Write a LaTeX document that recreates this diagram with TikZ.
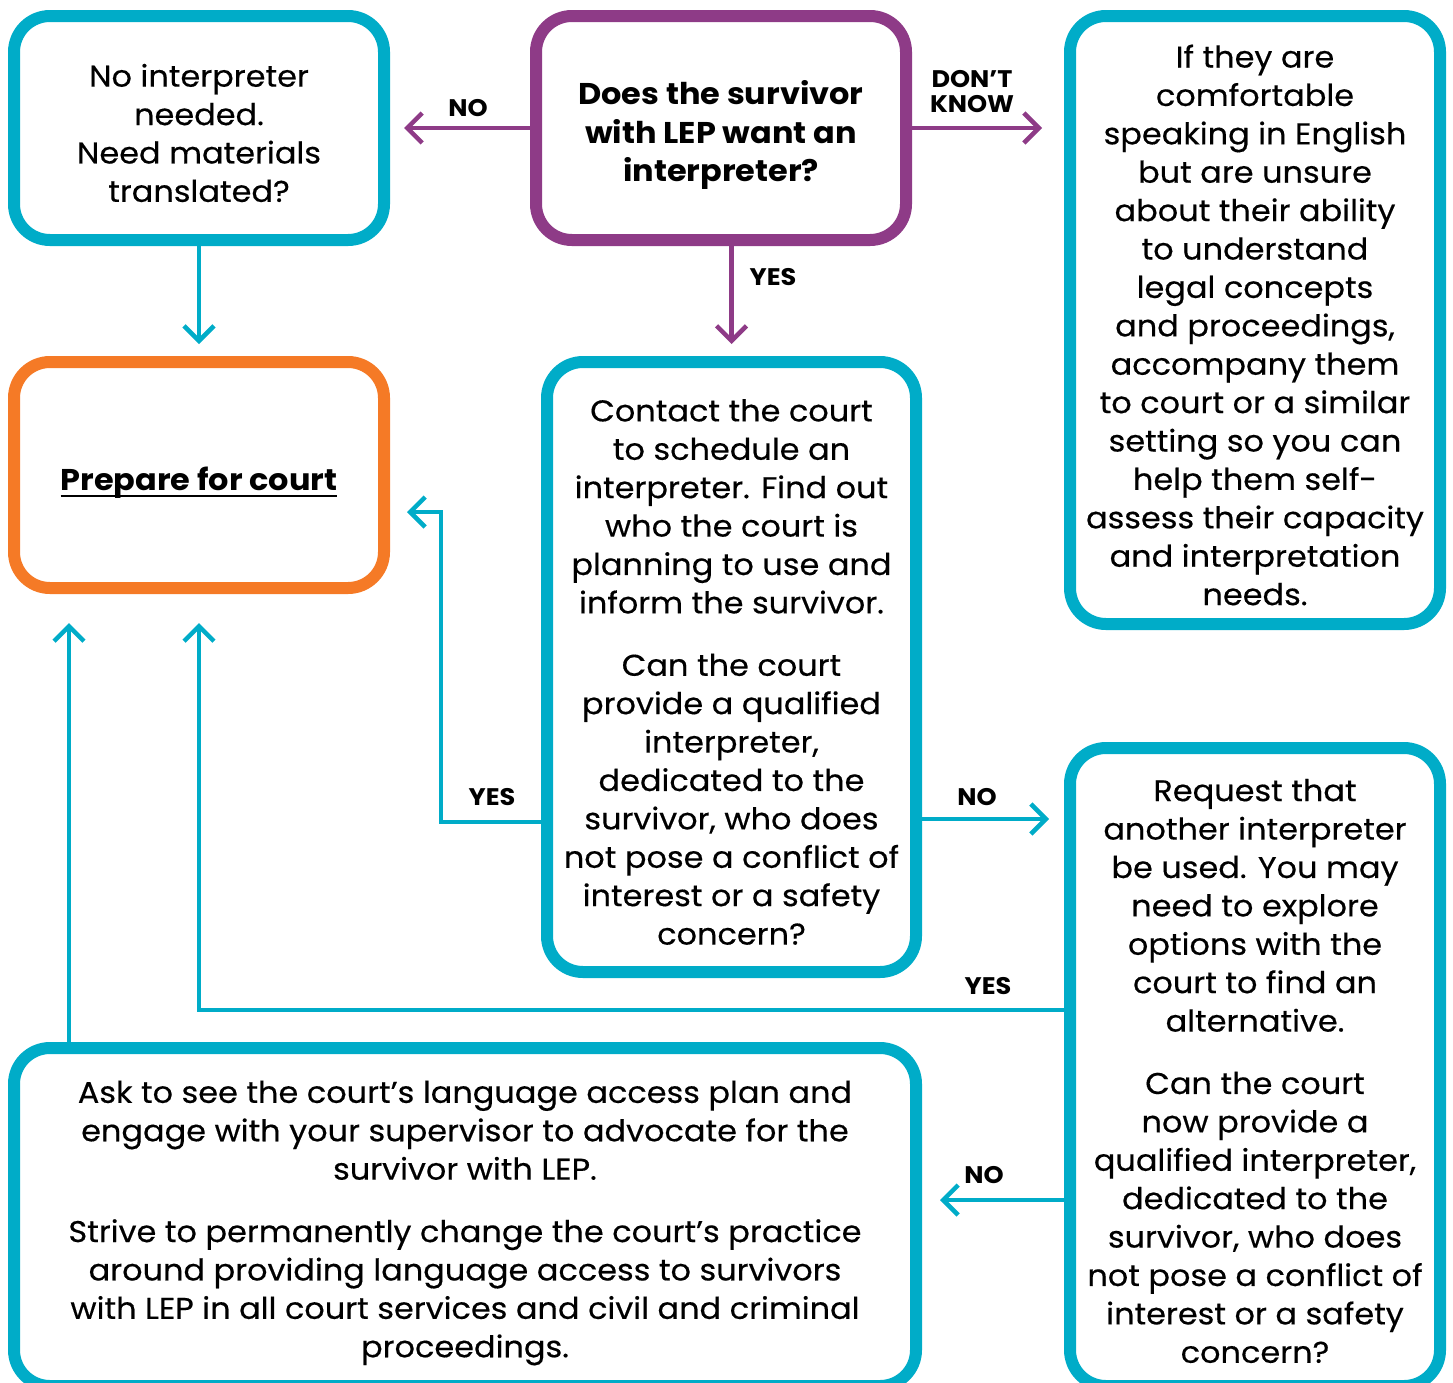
\documentclass[tikz,border=0pt]{standalone}
\usepackage{fontspec}
\setmainfont{Poppins}[FakeStretch=1.065, UprightFeatures={FakeBold=0.4}]
\newcommand\myul[1]{\setbox0\hbox{#1}\rlap{\rule[-6pt]{\wd0}{2.2pt}}\box0}
\usetikzlibrary{arrows.meta}
\definecolor{cpurple}{RGB}{142,59,135}
\definecolor{ccyan}{RGB}{0,172,200}
\definecolor{corange}{RGB}{245,122,38}
\begin{document}
\begin{tikzpicture}[x=1pt,y=-1pt,
  box/.style={draw=ccyan, line width=12pt, rounded corners=36pt, inner sep=0pt},
  txt/.style={align=center, inner sep=0pt, font=\fontsize{30}{38.4}\selectfont},
  conn/.style={draw=ccyan, line width=4.5pt, -{Straight Barb[length=15pt,width=30pt]}},
  pconn/.style={conn, draw=cpurple},
  lbl/.style={font=\fontsize{24}{25}\selectfont\bfseries, inner sep=0pt, align=center}]
\useasboundingbox (0,0) rectangle (1453,1382);
\clip (0,0) rectangle (1453,1382);

% boxes
\node[box, minimum width=370pt, minimum height=224pt] (A) at (199,128) {};
\node[box, draw=cpurple, minimum width=370pt, minimum height=224pt] (B) at (721,128) {};
\node[box, minimum width=370pt, minimum height=608pt] (C) at (1255,320) {};
\node[box, draw=corange, minimum width=370pt, minimum height=226pt] (D) at (199,475) {};
\node[box, minimum width=369pt, minimum height=610pt] (E) at (731.5,667) {};
\node[box, minimum width=370pt, minimum height=638pt] (F) at (1255,1067) {};
\node[box, minimum width=902pt, minimum height=338pt] (G) at (465,1217) {};

% texts
\node[txt] (At) at ([yshift=-5pt]A.center)
  {No interpreter\\needed.\\Need materials\\translated?};
\node[txt, font=\fontsize{30}{38.4}\selectfont\bfseries] (Bt) at ([yshift=-7pt]B.center)
  {Does the survivor\\with LEP want an\\interpreter?};
\node[txt] (Ct) at ([yshift=-5pt]C.center)
  {If they are\\comfortable\\speaking in English\\but are unsure\\about their ability\\to understand\\legal concepts\\and proceedings,\\accompany them\\to court or a similar\\setting so you can\\help them self-\\assess their capacity\\and interpretation\\needs.};
\node[txt, font=\fontsize{30}{38.4}\selectfont\bfseries] (Dt) at ([yshift=-8pt]D.center)
  {\myul{Prepare for court}};
\node[txt] (Et) at ([yshift=-5pt]E.center)
  {Contact the court\\to schedule an\\interpreter. Find out\\who the court is\\planning to use and\\inform the survivor.\\[24pt]Can the court\\provide a qualified\\interpreter,\\dedicated to the\\survivor, who does\\not pose a conflict of\\interest or a safety\\concern?};
\node[txt] (Ft) at ([yshift=-4pt]F.center)
  {Request that\\another interpreter\\be used. You may\\need to explore\\options with the\\court to find an\\alternative.\\[24pt]Can the court\\now provide a\\qualified interpreter,\\dedicated to the\\survivor, who does\\not pose a conflict of\\interest or a safety\\concern?};
\node[txt] (Gt) at ([yshift=-6pt]G.center)
  {Ask to see the court’s language access plan and\\engage with your supervisor to advocate for the\\survivor with LEP.\\[24pt]Strive to permanently change the court’s practice\\around providing language access to survivors\\with LEP in all court services and civil and criminal\\proceedings.};

% connectors
\draw[pconn, shorten >=14pt] (B.west) -- (A.east);
\draw[pconn, shorten >=22pt] (B.east) -- (B.east -| C.west);
\draw[pconn, shorten >=12pt] (B.south -| E.north) -- (E.north);
\draw[conn, shorten >=12pt] (A.south) -- (D.north);
\draw[conn] ([yshift=-155pt]E.west) -- ++(-100,0) |- ([xshift=17pt,yshift=-37pt]D.east);
\draw[conn, shorten >=15pt] ([yshift=-152pt]E.east) -- ([yshift=-152pt]E.east -| F.west);
\draw[conn, shorten >=29pt] ([yshift=57pt]F.west) -| (D.south);
\coordinate (dl) at ([xshift=-130pt]D.south);
\draw[conn, shorten >=29pt] (G.north -| dl) -- (dl);
\draw[conn, shorten >=18pt] ([yshift=-133pt]F.west) -- ([yshift=-133pt]F.west -| G.east);

% labels
\node[lbl] (l1) at (468,108) {NO};
\node[lbl] (l2) at (972,92) {DON’T\\KNOW};
\node[lbl] (l3) at (773,277) {YES};
\node[lbl] (l4) at (492,797) {YES};
\node[lbl] (l5) at (977,797) {NO};
\node[lbl] (l6) at (988,986) {YES};
\node[lbl] (l7) at (984,1175) {NO};
\end{tikzpicture}
\end{document}
